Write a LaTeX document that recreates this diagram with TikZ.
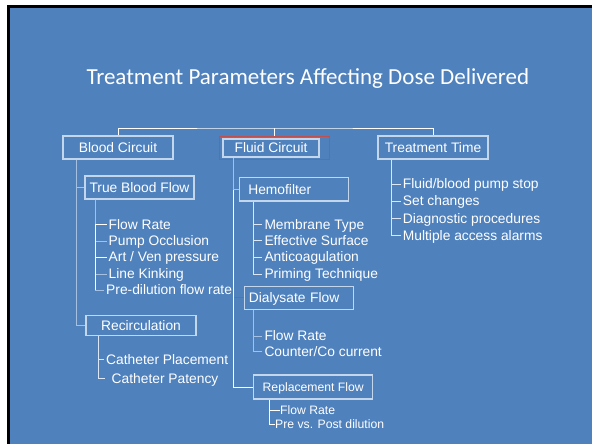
\documentclass[tikz,border=0pt]{standalone}
\usepackage{fontspec}
\setmainfont{Liberation Sans}
\newfontfamily\titlefont{Carlito}
\usetikzlibrary{positioning}
\definecolor{slideblue}{RGB}{79,129,189}
\definecolor{edgecolor}{RGB}{196,214,236}
\definecolor{faintline}{RGB}{165,192,224}
\definecolor{lightline}{RGB}{220,231,245}
\definecolor{markred}{RGB}{192,80,77}

\begin{document}
\begin{tikzpicture}[
    x=1pt, y=-1pt,
    box/.style={draw=edgecolor, line width=1.1pt, minimum height=23pt, inner sep=2pt, text height=9.9pt, text depth=0pt, font=\fontsize{13.8}{16}\selectfont, text=white},
    leaf/.style={anchor=west, inner xsep=2pt, inner ysep=0pt, text height=9.9pt, text depth=0pt, font=\fontsize{13.8}{16}\selectfont, text=white},
    smallleaf/.style={leaf, inner xsep=0.5pt, text height=8.7pt, font=\fontsize{12.2}{14}\selectfont},
    wire/.style={draw=white, line width=1pt},
    lightwire/.style={draw=lightline, line width=1pt},
    faintwire/.style={draw=faintline, line width=1pt}
]
    % slide background
    \fill[white] (0,0) rectangle (592,444);
    \fill[black] (7,5) rectangle (592,444);
    \fill[slideblue] (10,8) rectangle (592,444);
    \useasboundingbox (0,0) rectangle (592,444);

    \node[font=\titlefont\fontsize{23}{27}\selectfont, text=white, text height=14.8pt, text depth=0pt] (title) at (307.8,77) {Treatment Parameters Affecting Dose Delivered};

    % top level
    \node[box, minimum width=110pt] (blood) at (118,147.5) {Blood Circuit};
    \node[draw=markred, line width=0.6pt, minimum width=110pt, minimum height=23pt] (sel) at (274,147.5) {};
    \node[box, minimum width=96pt, minimum height=18pt] (fluid) at (271,148) {Fluid Circuit};
    \node[box, minimum width=110pt] (time) at (433,147.5) {Treatment Time};

    \coordinate (bus) at (274,128);
    \draw[wire] (blood.north) |- (bus) -| (time.north);
    \draw[wire] (bus) -- (sel.north);

    % blood circuit branch
    \node[box, minimum width=109pt] (tbf) at (139.5,187.5) {True Blood Flow};
    \node[box, minimum width=110pt, minimum height=19.6pt] (recirc) at (141,325.5) {Recirculation};
    \coordinate (bloodtrunk) at ([xshift=13.7pt]blood.south west);
    \draw[faintwire] (bloodtrunk) |- (tbf.west);
    \draw[faintwire] (bloodtrunk) |- (recirc.west);

    \node[leaf] (tbfrate) at (106.5,224.3) {Flow Rate};
    \node[leaf] (pump) at (106.5,241) {Pump Occlusion};
    \node[leaf] (artven) at (106.5,257) {Art / Ven pressure};
    \node[leaf] (kink) at (106.5,274) {Line Kinking};
    \node[leaf] (predil) at (104,290) {Pre-dilution flow rate};
    \coordinate (tbftrunk) at ([xshift=11pt]tbf.south west);
    \draw[faintwire] (tbftrunk) |- (pump.west);
    \draw[faintwire] (tbftrunk) |- (kink.west);
    \draw[faintwire] (tbftrunk) |- (predil.west);
    \draw[wire] (tbfrate.west) -| (tbftrunk |- predil.west);
    \draw[wire] (artven.west) -- (tbftrunk |- artven.west);

    \node[leaf] (placement) at (104,359.3) {Catheter Placement};
    \node[leaf, inner xsep=6.5pt] (patency) at (105,378.3) {Catheter Patency};
    \coordinate (recirctrunk) at ([xshift=12.7pt]recirc.south west);
    \draw[lightwire] (recirctrunk) |- (placement.west);
    \draw[lightwire] (recirctrunk) |- (patency.west);

    % fluid circuit branch
    \node[box, text width=91pt, align=left, inner xsep=9pt, minimum height=23.3pt] (hemo) at (293.8,189.3) {Hemofilter};
    \node[box, text width=100.4pt, align=left, inner xsep=4.5pt, minimum height=23.3pt] (dial) at (299,297.7) {Dialysate Flow};
    \node[box, minimum width=119pt, minimum height=24pt, text height=8.7pt, font=\fontsize{12.2}{14}\selectfont] (repl) at (313.2,387) {Replacement Flow};
    \coordinate (fluidtrunk) at ([xshift=11.3pt]fluid.south west);
    \draw[wire] (fluidtrunk) |- (repl.west);
    \draw[faintwire] (fluidtrunk) |- (hemo.west);
    \draw[markred, line width=0.6pt] (fluidtrunk |- dial.west) -- (dial.west);

    \node[leaf] (membrane) at (262.3,224.3) {Membrane Type};
    \node[leaf] (surface) at (262.3,240.7) {Effective Surface};
    \node[leaf] (anticoag) at (262.3,257) {Anticoagulation};
    \node[leaf] (priming) at (262.3,274) {Priming Technique};
    \coordinate (hemotrunk) at ([xshift=14.4pt]hemo.south west);
    \draw[lightwire] (hemotrunk) |- (membrane.west);
    \draw[lightwire] (hemotrunk) |- (surface.west);
    \draw[lightwire] (hemotrunk) |- (anticoag.west);
    \draw[lightwire] (hemotrunk) |- (priming.west);

    \node[leaf] (dialrate) at (262.3,336) {Flow Rate};
    \node[leaf] (counter) at (262.3,351.7) {Counter/Co current};
    \coordinate (dialtrunk) at ([xshift=9.4pt]dial.south west);
    \draw[faintwire] (dialtrunk) |- (dialrate.west);
    \draw[faintwire] (dialtrunk) |- (counter.west);

    \node[smallleaf] (replrate) at (279.5,410) {Flow Rate};
    \node[smallleaf] (prepost) at (274.5,424.3) {Pre vs. Post dilution};
    \coordinate (repltrunk) at ([xshift=16.3pt]repl.south west);
    \draw[wire] (repltrunk) |- (replrate.west);
    \draw[wire] (repltrunk) |- (prepost.west);

    % treatment time branch
    \node[leaf] (pumpstop) at (400.7,184) {Fluid/blood pump stop};
    \node[leaf] (setchange) at (400.7,201) {Set changes};
    \node[leaf] (diagnostic) at (400.7,218.3) {Diagnostic procedures};
    \node[leaf] (alarms) at (400.7,235.3) {Multiple access alarms};
    \coordinate (timetrunk) at ([xshift=13.7pt]time.south west);
    \draw[lightwire] (timetrunk) |- (pumpstop.west);
    \draw[lightwire] (timetrunk) |- (setchange.west);
    \draw[lightwire] (timetrunk) |- (diagnostic.west);
    \draw[lightwire] (timetrunk) |- (alarms.west);
\end{tikzpicture}
\end{document}
